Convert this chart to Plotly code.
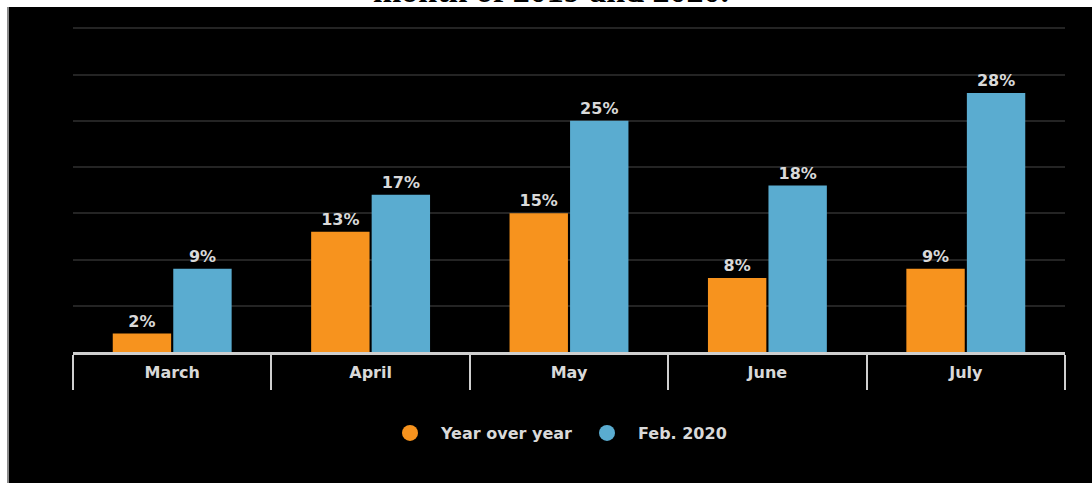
import plotly.graph_objects as go

# Monthly change figures (percent)
months = ["March", "April", "May", "June", "July"]
year_over_year = [2, 13, 15, 8, 9]
vs_feb_2020 = [9, 17, 25, 18, 28]
series_names = ["Year over year", "Feb. 2020"]
title_text = "month of 2019 and 2020."

W, H = 1092, 483
ORANGE = "#F7931E"
BLUE = "#5AACD0"
TEXT = "#d9d9d9"
FONT = "DejaVu Sans"

fig = go.Figure()
for name, vals, color in [(series_names[0], year_over_year, ORANGE),
                          (series_names[1], vs_feb_2020, BLUE)]:
    fig.add_trace(go.Bar(
        x=months, y=vals, name=name, marker_color=color,
        marker_line_width=0,
        text=[f"{v}%" for v in vals], textposition="outside",
        textfont=dict(family=FONT, size=16, color=TEXT, weight="bold"),
        cliponaxis=False, showlegend=False,
    ))
    # round legend swatches
    fig.add_trace(go.Scatter(
        x=[None], y=[None], mode="markers", name=name,
        marker=dict(symbol="circle", size=22, color=color),
    ))

px_top, px_bottom = 25.5, 352
fig.update_layout(
    width=W, height=H,
    margin=dict(l=0, r=0, t=0, b=0, autoexpand=False),
    paper_bgcolor="white", plot_bgcolor="black",
    barmode="group", bargap=0.39, bargroupgap=0.035,
    showlegend=True,
    legend=dict(orientation="h", x=379 / W, xanchor="left",
                y=(H - 433) / H, yanchor="middle",
                font=dict(family=FONT, size=16, color=TEXT, weight="bold"),
                bgcolor="rgba(0,0,0,0)", itemwidth=52,
                entrywidth=130, entrywidthmode="pixels"),
    xaxis=dict(domain=[73 / W, 1065 / W], type="category",
               showline=True, linecolor="#cfcfcf", linewidth=3,
               ticks="outside", tickson="boundaries", ticklen=35,
               tickwidth=2, tickcolor="#cfcfcf",
               ticklabelstandoff=4,
               tickfont=dict(family=FONT, size=16, color=TEXT, weight="bold"),
               showgrid=False, automargin=False, fixedrange=True),
    yaxis=dict(domain=[(H - px_bottom) / H, (H - px_top) / H],
               range=[0, 35.3], dtick=5, showticklabels=False,
               showgrid=True, gridcolor="#242424", gridwidth=2,
               zeroline=False, automargin=False, fixedrange=True),
    shapes=[
        dict(type="rect", xref="paper", yref="paper",
             x0=8 / W, x1=1, y0=0, y1=(H - 7) / H,
             fillcolor="black", line_width=0, layer="below"),
        dict(type="line", xref="paper", yref="paper",
             x0=8 / W, x1=8 / W, y0=0, y1=(H - 7) / H,
             line=dict(color="#8a8a8a", width=2), layer="below"),
    ],
    annotations=[dict(
        text=title_text, xref="paper", yref="paper",
        x=551 / W, xanchor="center", y=(H - 11) / H, yanchor="bottom",
        showarrow=False,
        font=dict(family="Liberation Serif", size=34, color="black",
                  weight="bold"),
    )],
)

fig.write_html("out.html")
